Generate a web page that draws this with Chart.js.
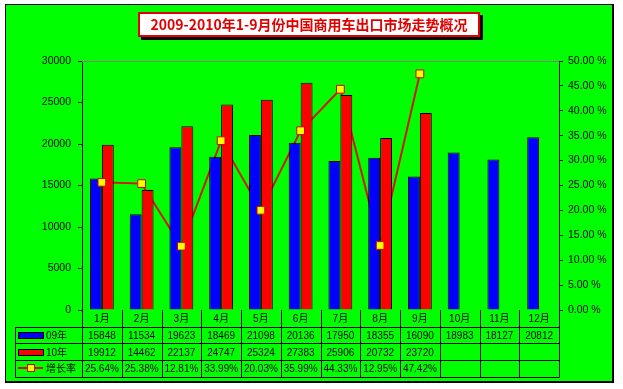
<!DOCTYPE html>
<html>
<head>
<meta charset="utf-8">
<script src="https://cdn.jsdelivr.net/npm/chart.js@4.4.0/dist/chart.umd.min.js"></script>
<style>
body{margin:0;background:#fff;width:623px;height:389px;overflow:hidden;position:relative;}
#frame{position:absolute;left:5px;top:4px;width:606px;height:376px;background:#00ff00;border:1px solid #000;border-right-width:2px;border-bottom-width:2px;}
#title{position:absolute;left:138px;top:12px;width:338px;height:21px;background:#fff;border:2px solid #e00000;box-shadow:3px 3px 0 #000;color:#e00000;font:bold 14px "Noto Sans CJK SC",sans-serif;text-align:center;line-height:21px;z-index:2;}
#chart{position:absolute;left:0;top:0;z-index:1;}
</style>
</head>
<body>
<div id="frame"></div>
<div id="title">2009-2010年1-9月份中国商用车出口市场走势概况</div>
<canvas id="chart" width="623" height="389"></canvas>
<script>
var months = ['1月', '2月', '3月', '4月', '5月', '6月', '7月', '8月', '9月', '10月', '11月', '12月'];
var sales09 = [15848, 11534, 19623, 18469, 21098, 20136, 17950, 18355, 16090, 18983, 18127, 20812];
var sales10 = [19912, 14462, 22137, 24747, 25324, 27383, 25906, 20732, 23720];
var growth = [25.64, 25.38, 12.81, 33.99, 20.03, 35.99, 44.33, 12.95, 47.42];
var seriesNames = ['09年', '10年', '增长率'];

var tableFont = '10px "Liberation Sans", "Noto Sans CJK SC", sans-serif';

// draws the data table under the plot, aligned on the x scale
var tablePlugin = {
    id: 'dataTable',
    beforeDatasetsDraw: function (chart) {
        var ctx = chart.ctx, area = chart.chartArea;
        ctx.save();
        ctx.strokeStyle = '#808080';
        ctx.lineWidth = 1;
        ctx.beginPath();
        ctx.moveTo(area.left, area.top + 0.5);
        ctx.lineTo(area.right, area.top + 0.5);
        ctx.stroke();
        ctx.restore();
    },
    afterDraw: function (chart) {
        var ctx = chart.ctx, xs = chart.scales.x, area = chart.chartArea;
        var top = area.bottom, rowH = 16.7, left = 15;
        var colW = (area.right - area.left) / months.length;
        var bottom = top + rowH * 4;
        ctx.save();
        ctx.strokeStyle = '#000';
        ctx.lineWidth = 1;
        ctx.beginPath();
        // horizontal lines
        for (var r = 1; r <= 4; r++) {
            var y = Math.round(top + rowH * r) + 0.5;
            ctx.moveTo(left, y);
            ctx.lineTo(area.right, y);
        }
        ctx.moveTo(left + 0.5, Math.round(top + rowH) + 0.5);
        ctx.lineTo(left + 0.5, Math.round(bottom) + 0.5);
        ctx.moveTo(area.left + 0.5, top);
        ctx.lineTo(area.left + 0.5, Math.round(bottom) + 0.5);
        for (var i = 0; i < months.length; i++) {
            var xb = Math.round(xs.getPixelForValue(i) + colW / 2) + 0.5;
            ctx.moveTo(xb, top);
            ctx.lineTo(xb, Math.round(bottom) + 0.5);
        }
        ctx.stroke();

        ctx.fillStyle = '#000';
        ctx.font = tableFont;
        ctx.textAlign = 'center';
        ctx.textBaseline = 'middle';
        for (var j = 0; j < months.length; j++) {
            var cx = xs.getPixelForValue(j);
            ctx.fillText(months[j], cx, top + rowH * 0.5 + 1);
            ctx.fillText(String(sales09[j]), cx, top + rowH * 1.5 + 1);
            if (sales10[j] != null) ctx.fillText(String(sales10[j]), cx, top + rowH * 2.5 + 1);
            if (growth[j] != null) ctx.fillText(growth[j].toFixed(2) + '%', cx, top + rowH * 3.5 + 1);
        }

        // legend keys in the first column
        ctx.textAlign = 'left';
        var keyColors = ['#0000ff', '#ff0000'];
        for (var k = 0; k < 2; k++) {
            var ky = Math.round(top + rowH * (1.5 + k)) - 3;
            ctx.fillStyle = keyColors[k];
            ctx.fillRect(18, ky, 25, 6);
            ctx.strokeRect(18.5, ky + 0.5, 25, 6);
            ctx.fillStyle = '#000';
            ctx.fillText(seriesNames[k], 46, top + rowH * (1.5 + k) + 1);
        }
        var gy = Math.round(top + rowH * 3.5);
        ctx.strokeStyle = '#d01800';
        ctx.lineWidth = 2;
        ctx.beginPath();
        ctx.moveTo(18, gy);
        ctx.lineTo(43, gy);
        ctx.stroke();
        ctx.fillStyle = '#ffff00';
        ctx.fillRect(27, gy - 4, 8, 8);
        ctx.strokeStyle = '#d00000';
        ctx.lineWidth = 1;
        ctx.strokeRect(27.5, gy - 3.5, 7, 7);
        ctx.fillStyle = '#000';
        ctx.fillText(seriesNames[2], 46, top + rowH * 3.5 + 1);
        ctx.restore();
    }
};

Chart.defaults.font.family = '"Liberation Sans", Arial, sans-serif';
Chart.defaults.font.size = 10;
Chart.defaults.color = '#000';

var chartEl = document.getElementById('chart');
var myChart = new Chart(chartEl, {
    type: 'bar',
    data: {
        labels: months,
        datasets: [{
            label: seriesNames[0],
            data: sales09,
            backgroundColor: '#0000ff',
            borderColor: '#000',
            borderWidth: 1,
            categoryPercentage: 0.6,
            barPercentage: 1.0,
            yAxisID: 'y',
            order: 1
        }, {
            label: seriesNames[1],
            data: sales10,
            backgroundColor: '#ff0000',
            borderColor: '#000',
            borderWidth: 1,
            categoryPercentage: 0.6,
            barPercentage: 1.0,
            yAxisID: 'y',
            order: 1
        }, {
            // the line itself sits behind the bars
            type: 'line',
            label: seriesNames[2],
            data: growth,
            borderColor: '#d01800',
            borderWidth: 2,
            pointRadius: 0,
            yAxisID: 'y1',
            order: 5
        }, {
            // markers on top of the bars
            type: 'line',
            label: seriesNames[2],
            data: growth,
            showLine: false,
            pointStyle: 'rect',
            pointRadius: 5.5,
            pointBackgroundColor: '#ffff00',
            pointBorderColor: '#d00000',
            pointBorderWidth: 1,
            yAxisID: 'y1',
            order: 0
        }]
    },
    options: {
        responsive: false,
        animation: false,
        devicePixelRatio: 1,
        layout: { padding: { top: 61, left: 0, right: 0, bottom: 0 } },
        plugins: {
            legend: { display: false },
            tooltip: { enabled: false },
            title: { display: false }
        },
        scales: {
            x: {
                offset: true,
                grid: { display: false },
                border: { display: false },
                ticks: { display: false },
                afterFit: function (scale) { scale.height = 79; }
            },
            y: {
                position: 'left',
                min: 0,
                max: 30000,
                ticks: {
                    stepSize: 5000,
                    padding: 7,
                    font: { size: 10.5 },
                    callback: function (v) { return String(v); }
                },
                grid: { drawOnChartArea: false, tickLength: 4, color: '#000' },
                border: { color: '#000' },
                afterFit: function (scale) { scale.width = 82; }
            },
            y1: {
                position: 'right',
                min: 0,
                max: 50,
                ticks: {
                    stepSize: 5,
                    padding: 5,
                    font: { size: 10.5 },
                    callback: function (v) { return v.toFixed(2) + ' %'; }
                },
                grid: { drawOnChartArea: false, tickLength: 4, color: '#000' },
                border: { color: '#000' },
                afterFit: function (scale) { scale.width = 64; }
            }
        }
    },
    plugins: [tablePlugin]
});
</script>
</body>
</html>
